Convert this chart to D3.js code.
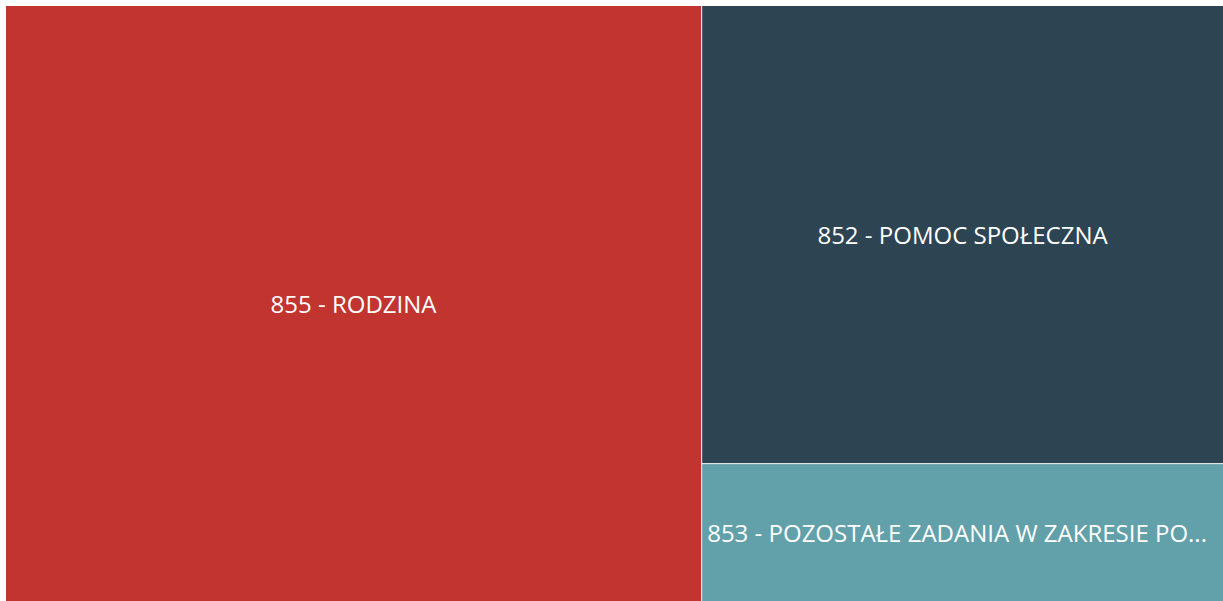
<!DOCTYPE html>
<html>
<head>
<meta charset="utf-8">
<script src="https://cdnjs.cloudflare.com/ajax/libs/d3/7.8.5/d3.min.js"></script>
<style>
  body { margin: 0; background: #ffffff; }
  svg { display: block; }
  .label { font-family: "Segoe UI", "Open Sans", sans-serif; fill: #ffffff; }
</style>
</head>
<body>
<div id="chart"></div>
<script>
// ===========Data
var categories = ["855 - RODZINA", "852 - POMOC SPOŁECZNA", "853 - POZOSTAŁE ZADANIA W ZAKRESIE POLITYKI SPOŁECZNEJ"];
var values = [57.1, 32.9, 9.9];
var colors = ["#c1342f", "#2d4453", "#62a0aa"];

// ===========Size and margins
var svgWidth = 1223;
var svgHeight = 601;
var margin = { top: 6, right: 0, bottom: 0, left: 6 };
var width = svgWidth - margin.left - margin.right;
var height = svgHeight - margin.top - margin.bottom;

var svg = d3.select("#chart").append("svg")
    .attr("width", svgWidth)
    .attr("height", svgHeight);

var chartGroup = svg.append("g")
    .attr("transform", `translate(${margin.left}, ${margin.top})`);

// ===========Hierarchy + treemap layout
var root = d3.hierarchy({
        children: categories.map((c, i) => ({ name: c, value: values[i], color: colors[i] }))
    })
    .sum(d => d.value)
    .sort((a, b) => b.value - a.value);

d3.treemap()
    .size([width, height])
    .paddingInner(1)
    .tile(d3.treemapSquarify)(root);

var cells = chartGroup.selectAll("g.cell")
    .data(root.leaves())
    .enter()
    .append("g")
    .attr("class", "cell")
    .attr("transform", d => `translate(${d.x0}, ${d.y0})`);

cells.append("rect")
    .attr("width", d => d.x1 - d.x0)
    .attr("height", d => d.y1 - d.y0)
    .attr("fill", d => d.data.color);

// labels centred, cut with "..." (and left aligned) when too long
cells.append("text")
    .attr("class", "label")
    .attr("x", d => (d.x1 - d.x0) / 2)
    .attr("y", d => (d.y1 - d.y0) / 2)
    .attr("text-anchor", "middle")
    .attr("dominant-baseline", "central")
    .style("font-size", "24px")
    .text(d => d.data.name)
    .each(function(d) {
        var el = d3.select(this);
        var maxW = (d.x1 - d.x0) - 9;
        var txt = d.data.name;
        if (this.getComputedTextLength() <= maxW) return;
        while (txt.length > 0) {
            txt = txt.slice(0, -1);
            el.text(txt + "...");
            if (this.getComputedTextLength() <= maxW) break;
        }
        el.attr("text-anchor", "start").attr("x", 5);
    });
</script>
</body>
</html>
